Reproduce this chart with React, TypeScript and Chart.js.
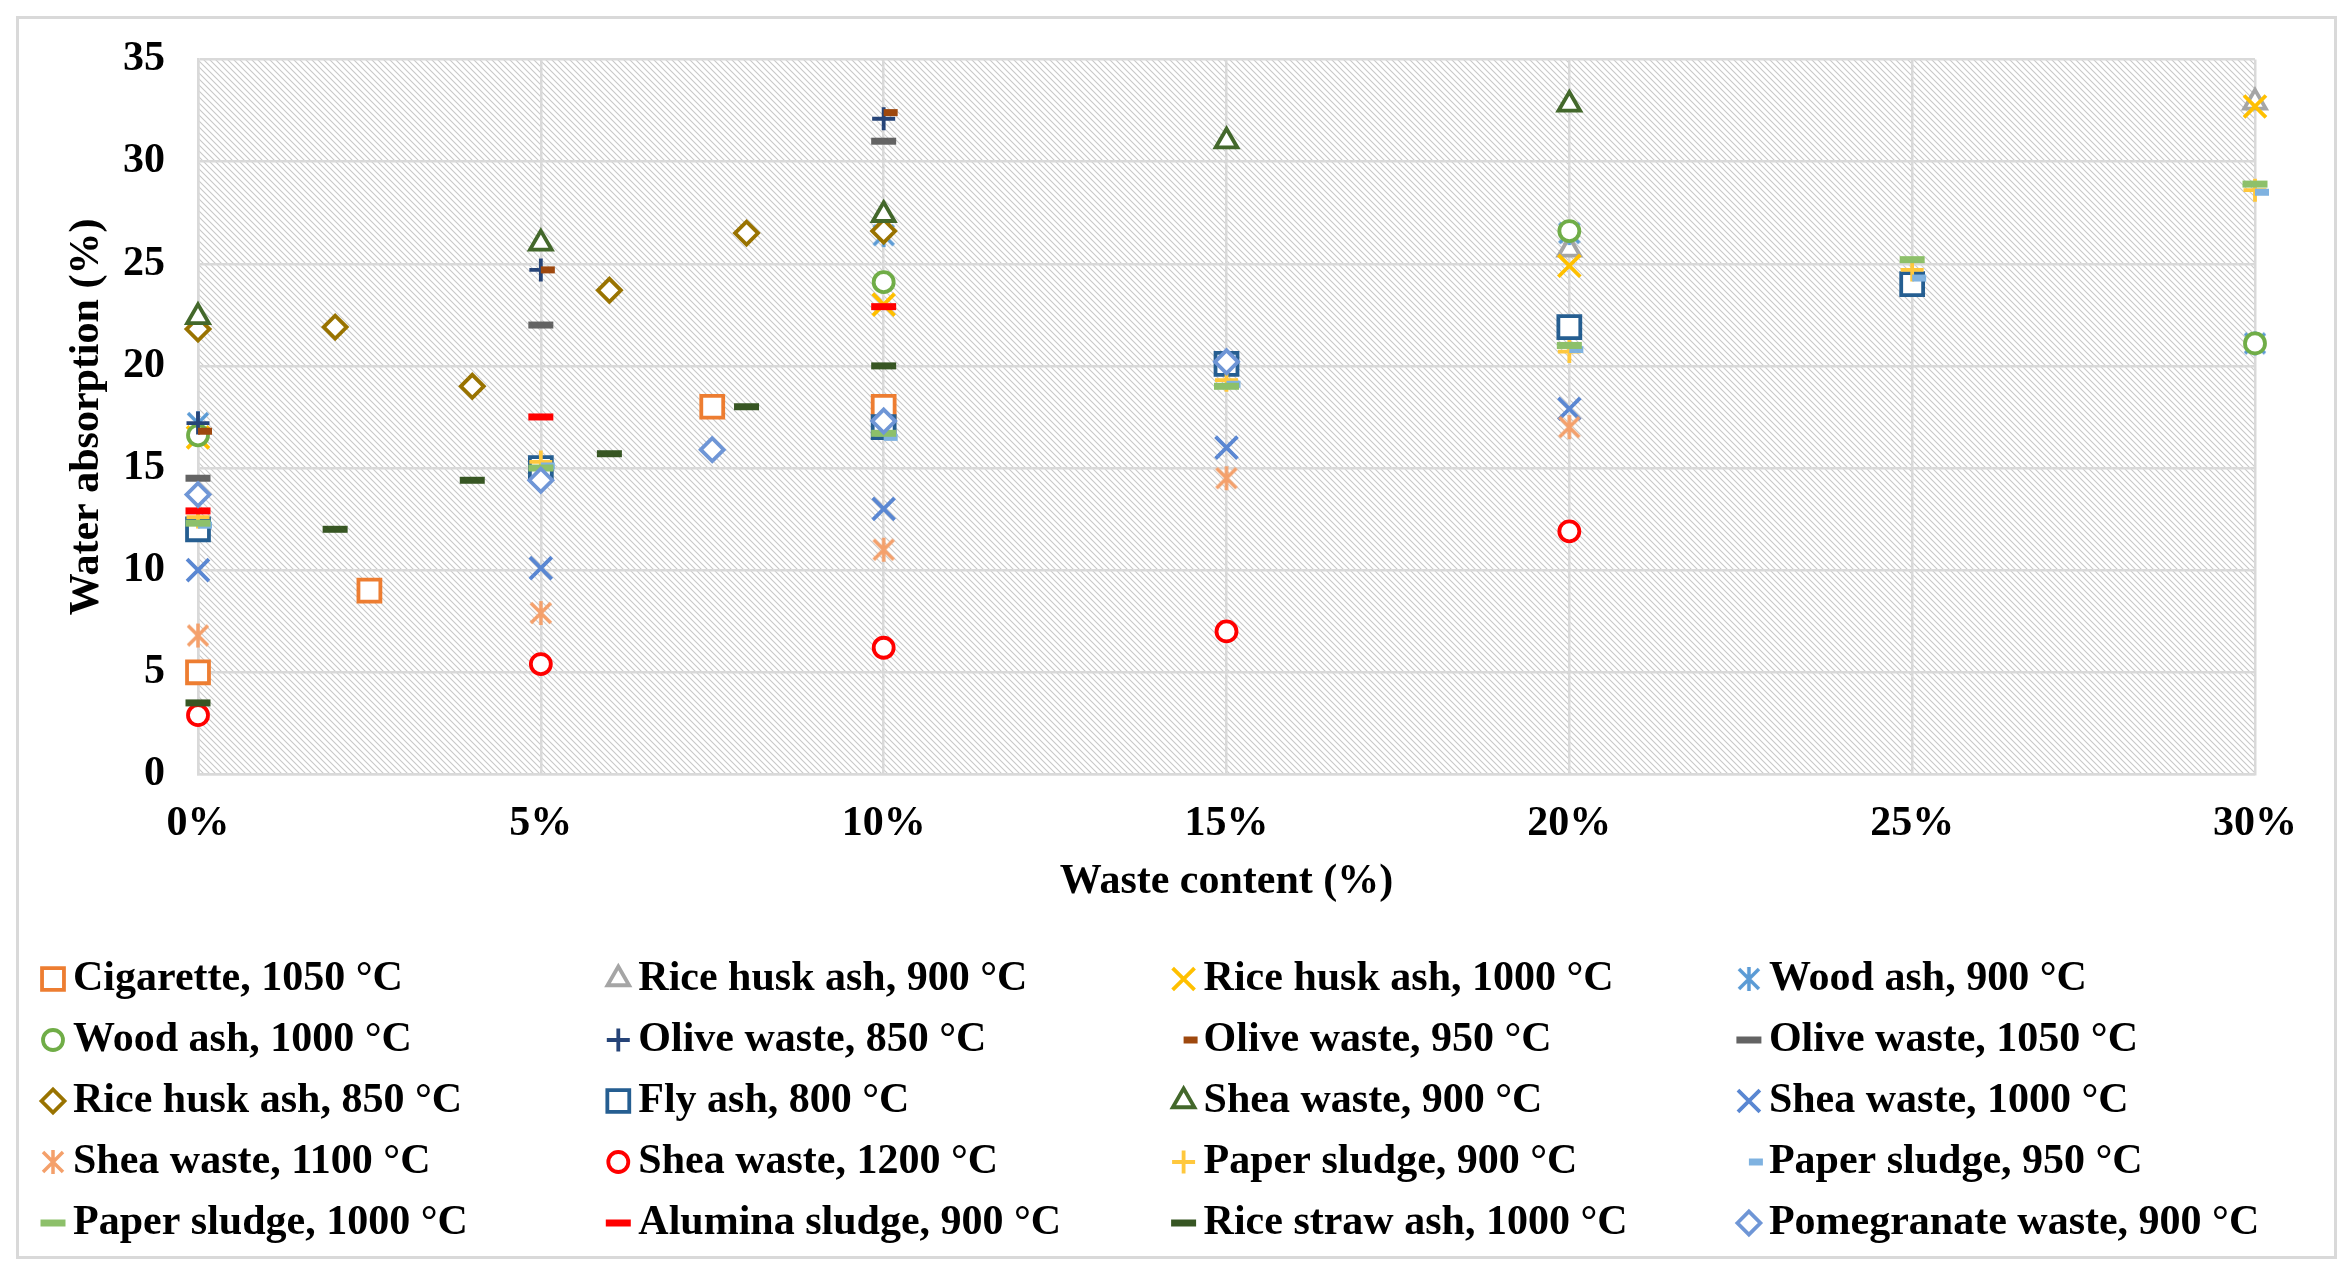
import { useEffect, useRef } from "react"
import Chart from "chart.js/auto"
import { drawPoint } from "chart.js/helpers"

const FONT = "'Liberation Serif', 'Times New Roman', serif"

// waste content (%) ticks and water absorption (%) ticks
const xTicks = [0, 5, 10, 15, 20, 25, 30]
const yTicks = [0, 5, 10, 15, 20, 25, 30, 35]

// [waste content %, water absorption %]
const cigarette1050 = [[0, 5.0], [2.5, 9.0], [7.5, 18.0], [10, 18.0]]
const riceHuskAsh900 = [[20, 25.7], [30, 32.9]]
const riceHuskAsh1000 = [[0, 16.5], [10, 23.0], [20, 24.9], [30, 32.7]]
const woodAsh900 = [[0, 17.2], [10, 26.4], [20, 26.5], [30, 21.1]]
const woodAsh1000 = [[0, 16.6], [10, 24.1], [20, 26.6], [30, 21.1]]
const oliveWaste850 = [[0, 17.2], [5, 24.7], [10, 32.1]]
const oliveWaste950 = [[0, 16.8], [5, 24.7], [10, 32.4]]
const oliveWaste1050 = [[0, 14.5], [5, 22.0], [10, 31.0]]
const riceHuskAsh850 = [[0, 21.8], [2, 21.9], [4, 19.0], [6, 23.7], [8, 26.5], [10, 26.6]]
const flyAsh800 = [[0, 12.0], [5, 15.0], [10, 17.0], [15, 20.1], [20, 21.9], [25, 24.0]]
const sheaWaste900 = [[0, 22.4], [5, 26.0], [10, 27.4], [15, 31.0], [20, 32.8]]
const sheaWaste1000 = [[0, 10.0], [5, 10.1], [10, 13.0], [15, 16.0], [20, 17.9]]
const sheaWaste1100 = [[0, 6.8], [5, 7.9], [10, 11.0], [15, 14.5], [20, 17.0]]
const sheaWaste1200 = [[0, 2.9], [5, 5.4], [10, 6.2], [15, 7.0], [20, 11.9]]
const paperSludge900 = [[0, 12.6], [5, 15.3], [15, 19.3], [20, 20.7], [25, 24.7], [30, 28.6]]
const paperSludge950 = [[0, 12.2], [5, 15.1], [10, 16.5], [15, 19.1], [20, 20.8], [25, 24.3], [30, 28.5]]
const paperSludge1000 = [[0, 12.3], [5, 15.0], [10, 16.7], [15, 19.0], [20, 21.0], [25, 25.2], [30, 28.9]]
const aluminaSludge900 = [[0, 12.9], [5, 17.5], [10, 22.9]]
const riceStrawAsh1000 = [[0, 3.5], [2, 12.0], [4, 14.4], [6, 15.7], [8, 18.0], [10, 20.0]]
const pomegranateWaste900 = [[0, 13.7], [5, 14.4], [7.5, 15.9], [10, 17.3], [15, 20.2]]

const seriesNames = [
  "Cigarette, 1050 °C",
  "Rice husk ash, 900 °C",
  "Rice husk ash, 1000 °C",
  "Wood ash, 900 °C",
  "Wood ash, 1000 °C",
  "Olive waste, 850 °C",
  "Olive waste, 950 °C",
  "Olive waste, 1050 °C",
  "Rice husk ash, 850 °C",
  "Fly ash, 800 °C",
  "Shea waste, 900 °C",
  "Shea waste, 1000 °C",
  "Shea waste, 1100 °C",
  "Shea waste, 1200 °C",
  "Paper sludge, 900 °C",
  "Paper sludge, 950 °C",
  "Paper sludge, 1000 °C",
  "Alumina sludge, 900 °C",
  "Rice straw ash, 1000 °C",
  "Pomegranate waste, 900 °C",
]

const seriesValues = [
  cigarette1050, riceHuskAsh900, riceHuskAsh1000, woodAsh900,
  woodAsh1000, oliveWaste850, oliveWaste950, oliveWaste1050,
  riceHuskAsh850, flyAsh800, sheaWaste900, sheaWaste1000,
  sheaWaste1100, sheaWaste1200, paperSludge900, paperSludge950,
  paperSludge1000, aluminaSludge900, riceStrawAsh1000, pomegranateWaste900,
]

// marker look for each series (Excel-like)
const seriesMarkers = [
  ["square", "#ED7D31"],
  ["triangle", "#A5A5A5"],
  ["x", "#FFC000"],
  ["star", "#5B9BD5"],
  ["circle", "#70AD47"],
  ["plus", "#264478"],
  ["dash", "#9E480E"],
  ["long", "#636363"],
  ["diamond", "#997300"],
  ["square", "#255E91"],
  ["triangle", "#43682B"],
  ["x", "#5A87D2"],
  ["star", "#F4A06B"],
  ["circle", "#FF0000"],
  ["plus", "#FFC83D"],
  ["dash", "#7FB2E0"],
  ["long", "#8DC06A"],
  ["long", "#FF0000"],
  ["long", "#375623"],
  ["diamond", "#6F96D6"],
]

function makeStar(color: string) {
  const c = document.createElement("canvas")
  c.width = 28
  c.height = 28
  const g = c.getContext("2d")!
  g.strokeStyle = color
  g.lineWidth = 3.5
  g.beginPath()
  g.moveTo(4, 4)
  g.lineTo(24, 24)
  g.moveTo(24, 4)
  g.lineTo(4, 24)
  g.moveTo(14, 2)
  g.lineTo(14, 26)
  g.stroke()
  return c
}

function markerOptions(kind: string, color: string) {
  switch (kind) {
    case "square": return { pointStyle: "rect", pointRadius: 15.5, pointBorderWidth: 3.8 }
    case "triangle": return { pointStyle: "triangle", pointRadius: 12.5, pointBorderWidth: 3.8 }
    case "x": return { pointStyle: "crossRot", pointRadius: 15.5, pointBorderWidth: 3.8 }
    case "star": return { pointStyle: makeStar(color), pointRadius: 12, pointBorderWidth: 3.5 }
    case "circle": return { pointStyle: "circle", pointRadius: 10, pointBorderWidth: 3.8 }
    case "plus": return { pointStyle: "cross", pointRadius: 11.5, pointBorderWidth: 3.8 }
    case "dash": return { pointStyle: "dash", pointRadius: 14, pointBorderWidth: 7 }
    case "long": return { pointStyle: "line", pointRadius: 12.5, pointBorderWidth: 7 }
    default: return { pointStyle: "rectRot", pointRadius: 11.5, pointBorderWidth: 3.8 }
  }
}

function makeHatch() {
  const t = document.createElement("canvas")
  t.width = 6
  t.height = 6
  const g = t.getContext("2d")!
  g.strokeStyle = "#c8c8c8"
  g.lineWidth = 1.1
  g.beginPath()
  g.moveTo(-1, -1)
  g.lineTo(7, 7)
  g.moveTo(-1, 5)
  g.lineTo(1, 7)
  g.moveTo(5, -1)
  g.lineTo(7, 1)
  g.stroke()
  return t
}

// white page, outer frame and hatched plot area
const backdrop = {
  id: "backdrop",
  beforeDraw(chart: any) {
    const { ctx, chartArea } = chart
    ctx.save()
    ctx.fillStyle = "#fff"
    ctx.fillRect(0, 0, chart.width, chart.height)
    ctx.strokeStyle = "#d9d9d9"
    ctx.lineWidth = 3
    ctx.strokeRect(17.5, 17.5, 2318, 1240)
    const pattern = ctx.createPattern(makeHatch(), "repeat")
    ctx.fillStyle = pattern
    ctx.fillRect(chartArea.left, chartArea.top, chartArea.right - chartArea.left, chartArea.bottom - chartArea.top)
    ctx.restore()
  },
}

// 4-column legend under the axis title
const gridLegend = {
  id: "gridLegend",
  afterDraw(chart: any) {
    const { ctx } = chart
    ctx.save()
    ctx.font = `bold 42px ${FONT}`
    ctx.textBaseline = "middle"
    chart.data.datasets.forEach((ds: any, i: number) => {
      const x = 53 + (i % 4) * 565.3
      const y = 979 + Math.floor(i / 4) * 61
      ctx.save()
      ctx.strokeStyle = ds.pointBorderColor
      ctx.fillStyle = "#fff"
      ctx.lineWidth = ds.pointBorderWidth
      drawPoint(ctx, { pointStyle: ds.pointStyle, rotation: 0, radius: ds.pointRadius, borderWidth: ds.pointBorderWidth } as any, x, y)
      ctx.restore()
      ctx.fillStyle = "#000"
      ctx.fillText(ds.label, x + 20, y)
    })
    ctx.restore()
  },
}

export default function App() {
  const chartRef = useRef<HTMLCanvasElement>(null)
  const chartInstance = useRef<Chart | null>(null)

  useEffect(() => {
    if (!chartRef.current) return
    const ctx = chartRef.current.getContext("2d")
    if (!ctx) return
    if (chartInstance.current) chartInstance.current.destroy()

    const n = seriesNames.length
    const datasets = seriesNames.map((name, i) => {
      const [kind, color] = seriesMarkers[i]
      return {
        label: name,
        data: seriesValues[i].map(([x, y]) => ({ x, y })),
        ...markerOptions(kind, color),
        pointBorderColor: color,
        pointBackgroundColor: "#fff",
        borderColor: color,
        backgroundColor: "#fff",
        order: n - i,
        clip: false as any,
      }
    })

    const tickFont = { family: FONT, size: 42, weight: "bold" as const }

    chartInstance.current = new Chart(ctx, {
      type: "scatter",
      data: { datasets: datasets as any },
      plugins: [backdrop, gridLegend],
      options: {
        animation: false,
        responsive: true,
        maintainAspectRatio: false,
        events: [],
        layout: { padding: { top: 59.5, right: 97, bottom: 350.6, left: 0 } },
        plugins: { legend: { display: false }, tooltip: { enabled: false } },
        scales: {
          x: {
            type: "linear",
            min: 0,
            max: 30,
            afterBuildTicks: (scale: any) => {
              scale.ticks = xTicks.map((v) => ({ value: v }))
            },
            afterFit: (scale: any) => {
              scale.height = 150
            },
            ticks: { color: "#000", font: tickFont, padding: 25, callback: (v: any) => v + "%" },
            grid: { color: "#d9d9d9", lineWidth: 2.5, drawTicks: false },
            border: { display: true, color: "#d9d9d9", width: 2.5 },
            title: {
              display: true,
              text: "Waste content (%)",
              color: "#000",
              font: tickFont,
              padding: { top: 0, bottom: 17 },
            },
          },
          y: {
            type: "linear",
            min: 0,
            max: 35,
            afterBuildTicks: (scale: any) => {
              scale.ticks = yTicks.map((v) => ({ value: v }))
            },
            afterFit: (scale: any) => {
              scale.width = 198
            },
            ticks: { color: "#000", font: tickFont, padding: 33 },
            grid: { color: "#d9d9d9", lineWidth: 2.5, drawTicks: false },
            border: { display: true, color: "#d9d9d9", width: 2.5 },
            title: {
              display: true,
              text: "Water absorption (%)",
              color: "#000",
              font: tickFont,
              padding: { top: 62, bottom: 0 },
            },
          },
        },
      },
    })

    return () => {
      if (chartInstance.current) {
        chartInstance.current.destroy()
        chartInstance.current = null
      }
    }
  }, [])

  return (
    <div style={{ position: "absolute", left: 0, top: 0, width: 2352, height: 1275, background: "#fff" }}>
      <canvas ref={chartRef} aria-label="Water absorption versus waste content" role="img"></canvas>
    </div>
  )
}
